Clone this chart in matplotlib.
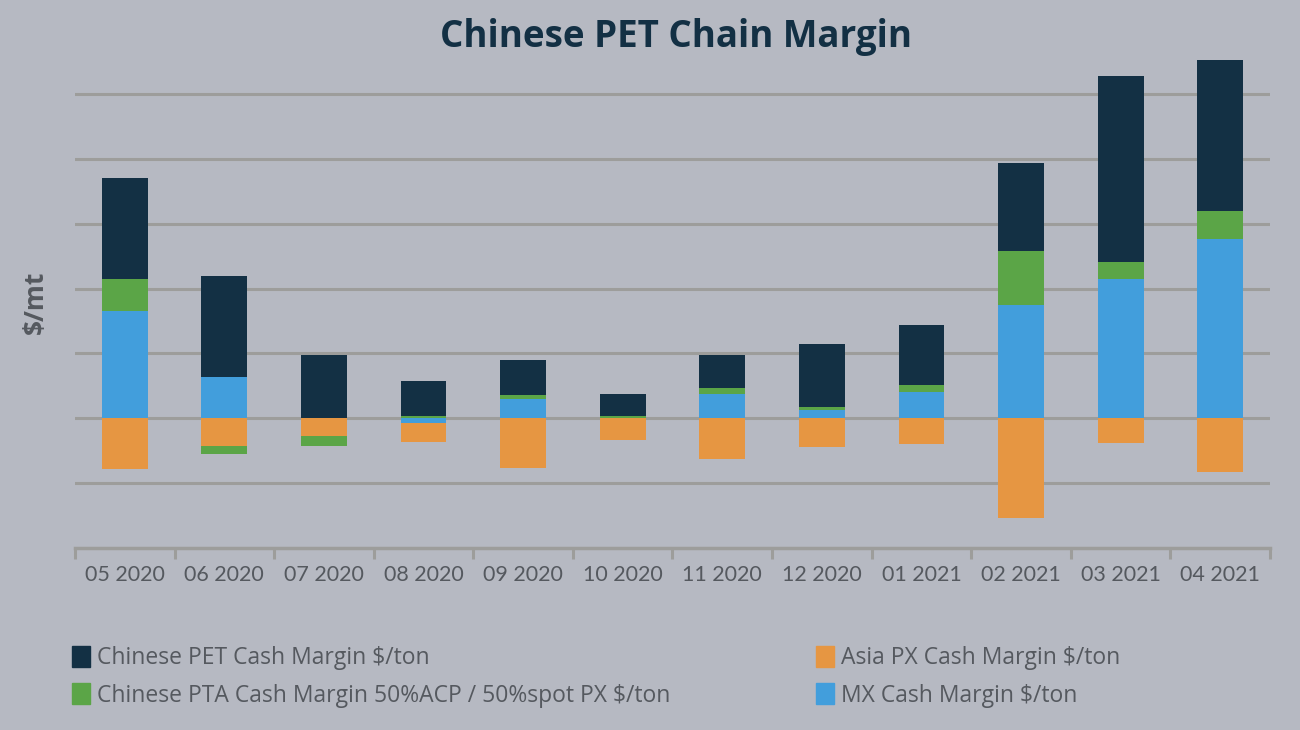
import numpy as np
import matplotlib.pyplot as plt
from matplotlib.patches import Patch

# 数据 (每格 = 100 $/mt, 刻度无标签)
months = ['05 2020', '06 2020', '07 2020', '08 2020', '09 2020', '10 2020',
          '11 2020', '12 2020', '01 2021', '02 2021', '03 2021', '04 2021']
mx_margin = [166, 63, 0, -8, 29, 0, 37, 12, 40, 175, 214, 276]
px_margin = [-78, -43, -28, -28, -77, -34, -63, -45, -40, -154, -38, -83]
pta_margin = [48, -12, -14, 4, 7, 4, 9, 6, 12, 83, 27, 43]
pet_margin = [156, 157, 97, 54, 54, 34, 51, 97, 92, 136, 287, 233]

bg = '#b6b9c2'
c_pet = '#133044'
c_pta = '#5ba547'
c_px = '#e69642'
c_mx = '#429edc'
txt = '#55595f'
grid_c = '#9d9d9b'

plt.rcParams['font.family'] = ['Lato', 'DejaVu Sans']

fig = plt.figure(figsize=(13, 7.3), dpi=100, facecolor=bg)
ax = fig.add_axes([75 / 1300, (730 - 548) / 730, 1195 / 1300, 493 / 730])
ax.set_facecolor(bg)

x = np.arange(len(months))
pos_base = np.zeros(len(months))
neg_base = np.zeros(len(months))
# 堆叠顺序同 Excel: 正值向上, 负值向下
for vals, col in [(mx_margin, c_mx), (px_margin, c_px), (pta_margin, c_pta), (pet_margin, c_pet)]:
    v = np.array(vals, dtype=float)
    bottom = np.where(v >= 0, pos_base, neg_base)
    ax.bar(x, v, 0.46, bottom=bottom, color=col, zorder=3, linewidth=0)
    pos_base += np.where(v >= 0, v, 0)
    neg_base += np.where(v < 0, v, 0)

ax.set_xlim(-0.5, len(months) - 0.5)
ax.set_ylim(-200, 560)
ax.set_yticks(np.arange(-100, 501, 100))
ax.yaxis.grid(True, color=grid_c, linewidth=2.2, zorder=1)
ax.tick_params(axis='y', length=0, labelleft=False)

ax.set_xticks(x)
ax.set_xticklabels(months, fontsize=15.5, color=txt)
ax.set_xticks(np.arange(-0.5, len(months)), minor=True)
ax.tick_params(axis='x', which='major', length=0, pad=12)
ax.tick_params(axis='x', which='minor', length=8, width=2.2, color=grid_c, direction='out')

for s in ['top', 'right', 'left']:
    ax.spines[s].set_visible(False)
ax.spines['bottom'].set_color(grid_c)
ax.spines['bottom'].set_linewidth(2.5)

fig.text(676 / 1300, 1 - 37 / 730, 'Chinese PET Chain Margin', ha='center', va='center',
         fontsize=26.5, fontweight='bold', color=c_pet, family=['Open Sans', 'DejaVu Sans'])
fig.text(35 / 1300, 1 - 302 / 730, '$/mt', ha='center', va='center', rotation=90,
         fontsize=19, fontweight='bold', color=txt, family=['Open Sans', 'DejaVu Sans'])

leg_kw = dict(frameon=False, prop={'family': ['Open Sans', 'DejaVu Sans'], 'size': 16.5},
              labelcolor=txt, handlelength=0.78, handleheight=1.0, handletextpad=0.3,
              labelspacing=0.58, borderpad=0, borderaxespad=0, loc='upper left')
fig.legend([Patch(color=c_pet), Patch(color=c_pta)],
           ['Chinese PET Cash Margin $/ton', 'Chinese PTA Cash Margin 50%ACP / 50%spot PX $/ton'],
           bbox_to_anchor=(72 / 1300, 1 - 646 / 730), **leg_kw)
fig.legend([Patch(color=c_px), Patch(color=c_mx)],
           ['Asia PX Cash Margin $/ton', 'MX Cash Margin $/ton'],
           bbox_to_anchor=(816 / 1300, 1 - 646 / 730), **leg_kw)

fig.savefig('out.png', dpi=100, facecolor=bg)
